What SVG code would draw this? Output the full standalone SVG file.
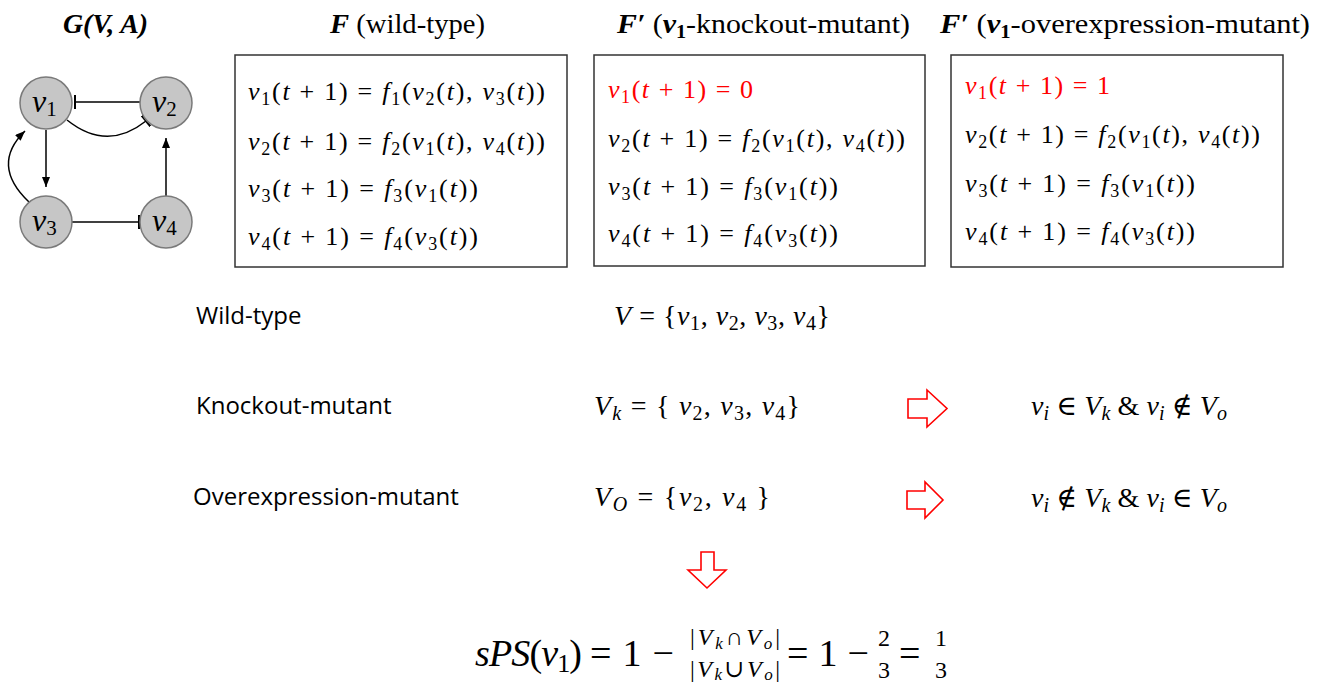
<svg xmlns="http://www.w3.org/2000/svg" width="1320" height="683" viewBox="0 0 1320 683">
<style>
.m{font-family:"Liberation Serif","DejaVu Serif",serif;fill:#000}
.eq{font-size:26px}
.mid{font-size:28px}
.i{font-style:italic}
.s{font-size:18px}
.s2{font-size:20px}
.red{fill:#ff0000}
.h{font-family:"Liberation Serif","DejaVu Serif",serif;font-size:28px;fill:#000}
.bi{font-weight:bold;font-style:italic}
.lab{font-family:"Open Sans","Liberation Sans",sans-serif;font-size:24px;fill:#000}
.node{fill:#c6c6c6;stroke:#7a7a7a;stroke-width:1.5}
.nl{font-family:"Liberation Serif","DejaVu Serif",serif;font-size:32px;font-style:italic;fill:#000}
.nls{font-size:21px;font-style:normal}
.edge{fill:none;stroke:#000;stroke-width:1.5}
.box{fill:#fff;stroke:#333;stroke-width:1.5}
.blk{fill:#fff;stroke:#ff0000;stroke-width:1.6;stroke-linejoin:miter}
</style>
<defs>
<marker id="arr" markerWidth="10" markerHeight="8" refX="10" refY="4" orient="auto" markerUnits="userSpaceOnUse"><path d="M0,0 L10,4 L0,8 z" fill="#000"/></marker>
<marker id="bar" markerWidth="4" markerHeight="14" refX="2" refY="7" orient="auto" markerUnits="userSpaceOnUse"><path d="M2,0 L2,14" stroke="#000" stroke-width="2"/></marker>
</defs>
<rect width="1320" height="683" fill="#fff"/>

<g id="headers">
<text class="h bi" x="63" y="33" textLength="85" lengthAdjust="spacingAndGlyphs">G(V, A)</text>
<text class="h" x="330" y="33" textLength="155" lengthAdjust="spacingAndGlyphs"><tspan class="bi">F</tspan> (wild-type)</text>
<text class="h" x="617" y="33" textLength="293" lengthAdjust="spacingAndGlyphs"><tspan class="bi">F′</tspan> (<tspan class="bi">v</tspan><tspan font-weight="bold" font-size="19px" dy="5">1</tspan><tspan dy="-5">-knockout-mutant)</tspan></text>
<text class="h" x="940" y="33" textLength="370" lengthAdjust="spacingAndGlyphs"><tspan class="bi">F′</tspan> (<tspan class="bi">v</tspan><tspan font-weight="bold" font-size="19px" dy="5">1</tspan><tspan dy="-5">-overexpression-mutant)</tspan></text>
</g>

<g id="connectors">
<line class="edge" x1="140" y1="102" x2="75" y2="102" marker-end="url(#bar)"/>
<path class="edge" d="M67,120 Q107,152 146,121" marker-end="url(#bar)"/>
<line class="edge" x1="46" y1="130" x2="46" y2="187" marker-end="url(#arr)"/>
<path class="edge" d="M29,202 Q-10,165 25,131" marker-end="url(#arr)"/>
<line class="edge" x1="166" y1="197" x2="166" y2="138" marker-end="url(#arr)"/>
<line class="edge" x1="72" y1="222" x2="139" y2="222" marker-end="url(#bar)"/>
</g>

<g id="node-v1"><circle class="node" cx="46" cy="103" r="26"/><text class="nl red" x="32" y="112">v<tspan class="nls" dy="4">1</tspan></text></g>
<g id="node-v2"><circle class="node" cx="166" cy="103" r="26"/><text class="nl" x="152" y="112">v<tspan class="nls" dy="4">2</tspan></text></g>
<g id="node-v3"><circle class="node" cx="46" cy="222" r="26"/><text class="nl" x="32" y="231">v<tspan class="nls" dy="4">3</tspan></text></g>
<g id="node-v4"><circle class="node" cx="166" cy="222" r="26"/><text class="nl" x="152" y="231">v<tspan class="nls" dy="4">4</tspan></text></g>

<g id="box-wild">
<rect class="box" x="235" y="55" width="332" height="212"/>
<text class="m eq" x="248" y="100" textLength="297" lengthAdjust="spacing"><tspan class="i">v</tspan><tspan class="s" dy="5">1</tspan><tspan dy="-5">(</tspan><tspan class="i">t</tspan> + 1) = <tspan class="i">f</tspan><tspan class="s" dy="5">1</tspan><tspan dy="-5">(</tspan><tspan class="i">v</tspan><tspan class="s" dy="5">2</tspan><tspan dy="-5">(</tspan><tspan class="i">t</tspan>), <tspan class="i">v</tspan><tspan class="s" dy="5">3</tspan><tspan dy="-5">(</tspan><tspan class="i">t</tspan>))</text>
<text class="m eq" x="248" y="150" textLength="297" lengthAdjust="spacing"><tspan class="i">v</tspan><tspan class="s" dy="5">2</tspan><tspan dy="-5">(</tspan><tspan class="i">t</tspan> + 1) = <tspan class="i">f</tspan><tspan class="s" dy="5">2</tspan><tspan dy="-5">(</tspan><tspan class="i">v</tspan><tspan class="s" dy="5">1</tspan><tspan dy="-5">(</tspan><tspan class="i">t</tspan>), <tspan class="i">v</tspan><tspan class="s" dy="5">4</tspan><tspan dy="-5">(</tspan><tspan class="i">t</tspan>))</text>
<text class="m eq" x="248" y="197" textLength="230" lengthAdjust="spacing"><tspan class="i">v</tspan><tspan class="s" dy="5">3</tspan><tspan dy="-5">(</tspan><tspan class="i">t</tspan> + 1) = <tspan class="i">f</tspan><tspan class="s" dy="5">3</tspan><tspan dy="-5">(</tspan><tspan class="i">v</tspan><tspan class="s" dy="5">1</tspan><tspan dy="-5">(</tspan><tspan class="i">t</tspan>))</text>
<text class="m eq" x="248" y="245" textLength="230" lengthAdjust="spacing"><tspan class="i">v</tspan><tspan class="s" dy="5">4</tspan><tspan dy="-5">(</tspan><tspan class="i">t</tspan> + 1) = <tspan class="i">f</tspan><tspan class="s" dy="5">4</tspan><tspan dy="-5">(</tspan><tspan class="i">v</tspan><tspan class="s" dy="5">3</tspan><tspan dy="-5">(</tspan><tspan class="i">t</tspan>))</text>
</g>

<g id="box-knockout">
<rect class="box" x="594" y="55" width="331" height="211"/>
<text class="m eq red" x="608" y="98" textLength="145" lengthAdjust="spacing"><tspan class="i">v</tspan><tspan class="s" dy="5">1</tspan><tspan dy="-5">(</tspan><tspan class="i">t</tspan> + 1) = 0</text>
<text class="m eq" x="608" y="147" textLength="297" lengthAdjust="spacing"><tspan class="i">v</tspan><tspan class="s" dy="5">2</tspan><tspan dy="-5">(</tspan><tspan class="i">t</tspan> + 1) = <tspan class="i">f</tspan><tspan class="s" dy="5">2</tspan><tspan dy="-5">(</tspan><tspan class="i">v</tspan><tspan class="s" dy="5">1</tspan><tspan dy="-5">(</tspan><tspan class="i">t</tspan>), <tspan class="i">v</tspan><tspan class="s" dy="5">4</tspan><tspan dy="-5">(</tspan><tspan class="i">t</tspan>))</text>
<text class="m eq" x="608" y="195" textLength="230" lengthAdjust="spacing"><tspan class="i">v</tspan><tspan class="s" dy="5">3</tspan><tspan dy="-5">(</tspan><tspan class="i">t</tspan> + 1) = <tspan class="i">f</tspan><tspan class="s" dy="5">3</tspan><tspan dy="-5">(</tspan><tspan class="i">v</tspan><tspan class="s" dy="5">1</tspan><tspan dy="-5">(</tspan><tspan class="i">t</tspan>))</text>
<text class="m eq" x="608" y="242" textLength="230" lengthAdjust="spacing"><tspan class="i">v</tspan><tspan class="s" dy="5">4</tspan><tspan dy="-5">(</tspan><tspan class="i">t</tspan> + 1) = <tspan class="i">f</tspan><tspan class="s" dy="5">4</tspan><tspan dy="-5">(</tspan><tspan class="i">v</tspan><tspan class="s" dy="5">3</tspan><tspan dy="-5">(</tspan><tspan class="i">t</tspan>))</text>
</g>

<g id="box-overexpression">
<rect class="box" x="951" y="55" width="332" height="212"/>
<text class="m eq red" x="965" y="94" textLength="145" lengthAdjust="spacing"><tspan class="i">v</tspan><tspan class="s" dy="5">1</tspan><tspan dy="-5">(</tspan><tspan class="i">t</tspan> + 1) = 1</text>
<text class="m eq" x="965" y="143" textLength="295" lengthAdjust="spacing"><tspan class="i">v</tspan><tspan class="s" dy="5">2</tspan><tspan dy="-5">(</tspan><tspan class="i">t</tspan> + 1) = <tspan class="i">f</tspan><tspan class="s" dy="5">2</tspan><tspan dy="-5">(</tspan><tspan class="i">v</tspan><tspan class="s" dy="5">1</tspan><tspan dy="-5">(</tspan><tspan class="i">t</tspan>), <tspan class="i">v</tspan><tspan class="s" dy="5">4</tspan><tspan dy="-5">(</tspan><tspan class="i">t</tspan>))</text>
<text class="m eq" x="965" y="192" textLength="230" lengthAdjust="spacing"><tspan class="i">v</tspan><tspan class="s" dy="5">3</tspan><tspan dy="-5">(</tspan><tspan class="i">t</tspan> + 1) = <tspan class="i">f</tspan><tspan class="s" dy="5">3</tspan><tspan dy="-5">(</tspan><tspan class="i">v</tspan><tspan class="s" dy="5">1</tspan><tspan dy="-5">(</tspan><tspan class="i">t</tspan>))</text>
<text class="m eq" x="965" y="240" textLength="230" lengthAdjust="spacing"><tspan class="i">v</tspan><tspan class="s" dy="5">4</tspan><tspan dy="-5">(</tspan><tspan class="i">t</tspan> + 1) = <tspan class="i">f</tspan><tspan class="s" dy="5">4</tspan><tspan dy="-5">(</tspan><tspan class="i">v</tspan><tspan class="s" dy="5">3</tspan><tspan dy="-5">(</tspan><tspan class="i">t</tspan>))</text>
</g>

<g id="sets">
<text class="lab" x="196" y="324">Wild-type</text>
<text class="lab" x="196" y="414">Knockout-mutant</text>
<text class="lab" x="193" y="505">Overexpression-mutant</text>
<text class="m mid" x="614" y="325" textLength="216" lengthAdjust="spacing"><tspan class="i">V</tspan> = {<tspan class="i">v</tspan><tspan class="s2" dy="5">1</tspan><tspan dy="-5">, </tspan><tspan class="i">v</tspan><tspan class="s2" dy="5">2</tspan><tspan dy="-5">, </tspan><tspan class="i">v</tspan><tspan class="s2" dy="5">3</tspan><tspan dy="-5">, </tspan><tspan class="i">v</tspan><tspan class="s2" dy="5">4</tspan><tspan dy="-5">}</tspan></text>
<text class="m mid" x="594" y="415" textLength="206" lengthAdjust="spacing"><tspan class="i">V</tspan><tspan class="s2 i" dy="5">k</tspan><tspan dy="-5"> = { </tspan><tspan class="i">v</tspan><tspan class="s2" dy="5">2</tspan><tspan dy="-5">, </tspan><tspan class="i">v</tspan><tspan class="s2" dy="5">3</tspan><tspan dy="-5">, </tspan><tspan class="i">v</tspan><tspan class="s2" dy="5">4</tspan><tspan dy="-5">}</tspan></text>
<text class="m mid" x="594" y="506" textLength="176" lengthAdjust="spacing"><tspan class="i">V</tspan><tspan class="s2 i" dy="5">O</tspan><tspan dy="-5"> = {</tspan><tspan class="i">v</tspan><tspan class="s2" dy="5">2</tspan><tspan dy="-5">, </tspan><tspan class="i">v</tspan><tspan class="s2" dy="5">4</tspan><tspan dy="-5"> }</tspan></text>
</g>

<g id="implications">
<polygon class="blk" points="908,399 927,399 927,390 947,408.5 927,427 927,418 908,418"/>
<polygon class="blk" points="907,491 925,491 925,482 943,500 925,518 925,509 907,509"/>
<text class="m mid" x="1031" y="415" textLength="196" lengthAdjust="spacing"><tspan class="i">v</tspan><tspan class="s2 i" dy="5">i</tspan><tspan dy="-5"> ∈ </tspan><tspan class="i">V</tspan><tspan class="s2 i" dy="5">k</tspan><tspan dy="-5"> &amp; </tspan><tspan class="i">v</tspan><tspan class="s2 i" dy="5">i</tspan><tspan dy="-5"> ∉ </tspan><tspan class="i">V</tspan><tspan class="s2 i" dy="5">o</tspan></text>
<text class="m mid" x="1031" y="507" textLength="196" lengthAdjust="spacing"><tspan class="i">v</tspan><tspan class="s2 i" dy="5">i</tspan><tspan dy="-5"> ∉ </tspan><tspan class="i">V</tspan><tspan class="s2 i" dy="5">k</tspan><tspan dy="-5"> &amp; </tspan><tspan class="i">v</tspan><tspan class="s2 i" dy="5">i</tspan><tspan dy="-5"> ∈ </tspan><tspan class="i">V</tspan><tspan class="s2 i" dy="5">o</tspan></text>
</g>

<g id="result">
<polygon class="blk" points="701,552 714,552 714,570 726,570 707,588 688,570 701,570"/>
<text class="m" font-size="38" x="475" y="666" textLength="107" lengthAdjust="spacing"><tspan class="i">sPS</tspan>(<tspan class="i">v</tspan><tspan font-size="26" dy="6">1</tspan><tspan dy="-6">)</tspan></text>
<text class="m" font-size="38" x="590" y="666" textLength="84" lengthAdjust="spacing">= 1 −</text>
<text class="m" font-size="24" x="690" y="645" textLength="90" lengthAdjust="spacing">|<tspan class="i">V</tspan><tspan class="i" font-size="17" dy="4">k</tspan><tspan dy="-4">∩</tspan><tspan class="i">V</tspan><tspan class="i" font-size="17" dy="4">o</tspan><tspan dy="-4">|</tspan></text>
<text class="m" font-size="24" x="690" y="677" textLength="90" lengthAdjust="spacing">|<tspan class="i">V</tspan><tspan class="i" font-size="17" dy="3">k</tspan><tspan dy="-3">∪</tspan><tspan class="i">V</tspan><tspan class="i" font-size="17" dy="3">o</tspan><tspan dy="-3">|</tspan></text>
<text class="m" font-size="38" x="787" y="666" textLength="82" lengthAdjust="spacing">= 1 −</text>
<text class="m" font-size="24" x="884" y="646" text-anchor="middle">2</text>
<text class="m" font-size="24" x="884" y="678" text-anchor="middle">3</text>
<text class="m" font-size="38" x="899" y="666">=</text>
<text class="m" font-size="24" x="941" y="646" text-anchor="middle">1</text>
<text class="m" font-size="24" x="941" y="678" text-anchor="middle">3</text>
</g>
</svg>
